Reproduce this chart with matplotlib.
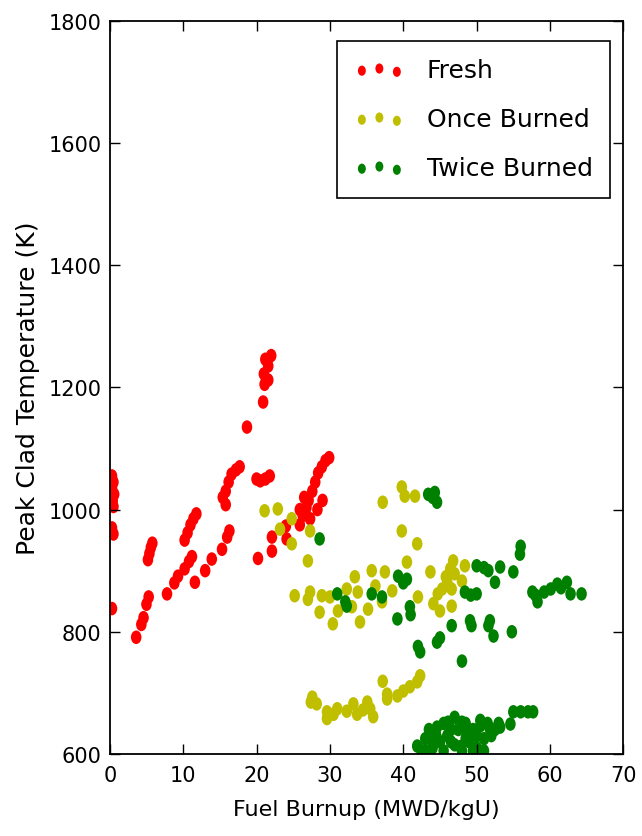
import matplotlib
matplotlib.use("Agg")
import matplotlib.pyplot as plt
import numpy as np
from matplotlib.path import Path
from matplotlib.transforms import Affine2D

fresh_x = [0.3, 0.5, 0.3, 0.6, 0.4, 0.5, 0.3, 0.5, 0.3,
           3.6, 4.3, 4.6, 5.0, 5.3, 5.2, 5.4, 5.6, 5.8,
           7.8, 8.8, 9.3, 10.2, 10.8, 11.2, 11.6, 13.0, 13.9, 15.3, 16.0, 16.3,
           10.2, 10.6, 11.0, 11.4, 11.8,
           15.4, 15.8, 16.2, 16.6, 17.2, 17.7, 15.8,
           20.0, 20.5, 21.2, 21.8,
           18.7, 20.9, 21.1, 21.6, 21.0, 21.2, 22.0, 21.6,
           20.2, 22.1, 22.1, 24.1, 24.0,
           25.9, 26.3, 26.8, 27.1, 27.6, 28.0, 28.4, 28.9, 29.4, 29.9, 26.5, 27.3, 28.3, 29.0, 25.9]
fresh_y = [1055, 1045, 1035, 1025, 1015, 1005, 970, 960, 838,
           791, 812, 823, 845, 857, 918, 928, 938, 945,
           862, 880, 891, 903, 915, 923, 881, 900, 919, 935, 955, 965,
           950, 962, 975, 985, 993,
           1020, 1030, 1045, 1058, 1065, 1070, 1008,
           1050, 1047, 1050, 1055,
           1135, 1176, 1205, 1212, 1222, 1246, 1252, 1235,
           920, 932, 955, 952, 973,
           975, 990, 1003, 1015, 1030, 1045, 1060, 1070, 1080, 1085, 1020, 985, 1000, 1015, 1000]

once_x = [21.1, 22.9, 23.2, 24.8, 24.8, 27.3, 27.0, 25.2, 27.3, 27.0, 28.9, 30.0, 28.6, 30.4, 31.1,
          32.3, 33.0, 33.4, 33.8, 34.1, 35.2, 35.7, 36.2, 37.1, 37.5, 38.5, 40.5, 42.0, 43.7, 41.9,
          39.8, 37.2, 39.8, 40.2, 41.6, 46.8, 48.4, 46.4, 46.0, 45.3, 44.7, 46.6, 48.0, 44.1, 45.0,
          46.6, 47.0, 45.8,
          27.6, 28.2, 29.6, 29.6, 31.0, 32.3, 33.2, 33.7, 35.1, 35.5, 35.9, 37.2, 37.8, 37.8, 39.2,
          40.0, 40.9, 41.9, 42.3, 27.4, 30.5, 34.5]
once_y = [998, 1001, 968, 985, 944, 965, 916, 859, 865, 853, 859, 857, 832, 813, 834,
          870, 841, 890, 865, 816, 837, 900, 875, 849, 898, 867, 914, 857, 898, 944,
          965, 1012, 1037, 1022, 1022, 916, 908, 903, 881, 870, 862, 870, 883, 846, 834,
          842, 895, 890,
          693, 682, 669, 658, 674, 670, 682, 665, 685, 674, 661, 719, 698, 690, 695,
          703, 710, 718, 728, 685, 665, 672]

twice_x = [28.6, 31.0, 32.1, 32.3, 35.7, 37.1, 39.3, 40.5, 40.0, 39.2, 40.9, 41.0,
           43.4, 44.0, 44.6, 44.3,
           50.0, 51.0, 51.6, 53.2, 55.0, 52.5, 55.9, 56.0, 48.4, 49.2, 50.0, 46.6, 49.1, 49.3,
           51.8, 51.6, 52.3, 54.8, 44.6, 42.0, 48.0, 42.3, 45.0,
           57.6, 58.3, 59.2, 60.1, 61.0, 62.3, 62.8, 64.3, 58.0, 61.5,
           41.9, 43.0, 44.6, 46.1, 48.0, 48.7, 50.5, 51.8, 53.2, 54.6, 55.0, 56.0, 57.0, 57.7,
           42.5, 44.0, 45.0, 46.0, 47.0, 48.0, 49.0, 50.0, 51.0, 52.0, 45.5, 47.5, 50.0, 53.0,
           43.5, 44.5, 45.5, 46.5, 47.0, 48.5, 49.5, 50.5, 51.5, 46.5, 48.5, 44.0, 43.0, 49.5,
           51.0, 52.5, 47.8]
twice_y = [952, 862, 849, 842, 862, 857, 891, 886, 880, 821, 841, 828,
           1025, 1020, 1012, 1028,
           908, 905, 900, 906, 898, 881, 927, 940, 865, 860, 862, 810, 818, 810,
           818, 810, 793, 800, 783, 776, 752, 767, 790,
           865, 849, 865, 870, 878, 881, 862, 862, 860, 872,
           613, 625, 644, 652, 652, 636, 646, 641, 644, 649, 669, 669, 669, 669,
           605, 610, 620, 630, 615, 605, 620, 610, 625, 630, 605, 640, 630, 650,
           640, 630, 650, 640, 660, 650, 640, 655, 650, 620, 625, 620, 605, 605,
           605, 640, 612]

labels = ["Fresh", "Once Burned", "Twice Burned"]
colors = ["#ff0000", "#bfbf00", "#008000"]

# slightly tall elliptical dot, as in the reference
circ = Path.unit_circle()
ellipse = Affine2D().scale(0.78, 1.0).transform_path(circ)

fig = plt.figure(figsize=(6.42, 8.37), dpi=100)
ax = fig.add_axes([0.171, 0.098, 0.8, 0.876])

ms = 95
ax.scatter(fresh_x, fresh_y, s=ms, c=colors[0], marker=ellipse, edgecolors="none", label=labels[0])
ax.scatter(once_x, once_y, s=ms, c=colors[1], marker=ellipse, edgecolors="none", label=labels[1])
ax.scatter(twice_x, twice_y, s=ms, c=colors[2], marker=ellipse, edgecolors="none", label=labels[2])

ax.set_xlim(0, 70)
ax.set_ylim(600, 1800)
ax.set_xticks(range(0, 71, 10))
ax.set_yticks(range(600, 1801, 200))
ax.tick_params(direction="in", top=True, right=True, length=7, width=1, labelsize=15)
ax.tick_params(axis="x", pad=8)
ax.tick_params(axis="y", pad=6)
for sp in ax.spines.values():
    sp.set_linewidth(1.3)
ax.set_xlabel("Fuel Burnup (MWD/kgU)", fontsize=16, labelpad=10)
ax.set_ylabel("Peak Clad Temperature (K)", fontsize=18, labelpad=6)

bx = (610 - 110) / 513.0
by = (755 - 42) / 733.0
leg = ax.legend(loc="upper right", bbox_to_anchor=(bx, by), borderaxespad=0,
                scatterpoints=3, scatteryoffsets=[0.375, 0.5, 0.3125],
                fontsize=18, markerscale=0.75, fancybox=False, edgecolor="black",
                framealpha=1, borderpad=0.7, labelspacing=1.0, handlelength=2.0,
                handletextpad=0.9)
leg.get_frame().set_linewidth(1.2)

fig.savefig("out.png", dpi=100)
